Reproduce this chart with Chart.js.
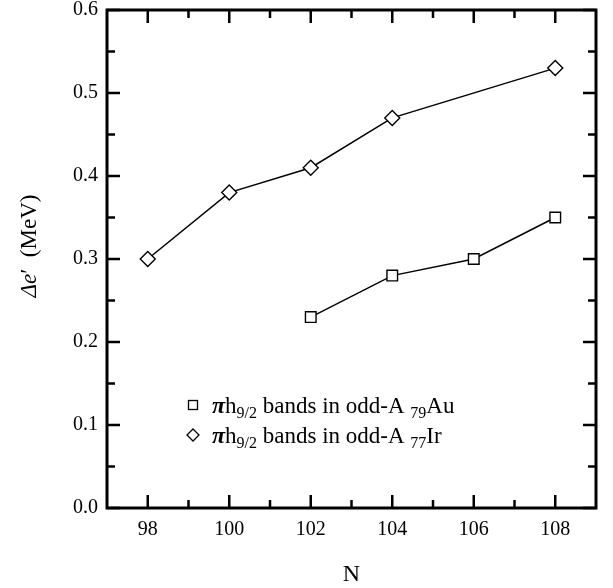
<!DOCTYPE html>
<html lang="en">
<head>
    <meta charset="UTF-8">
    <title>Delta e' vs N</title>
    <script src="https://cdn.jsdelivr.net/npm/chart.js"></script>
    <style>
        html, body { margin: 0; padding: 0; background: #fff; }
        #wrap { width: 613px; height: 588px; }
    </style>
</head>
<body>
    <div id="wrap"><canvas id="chart" width="613" height="588"></canvas></div>

    <script>
        // data
        const auN = [102, 104, 106, 108];
        const auValues = [0.23, 0.28, 0.30, 0.35];
        const irN = [98, 100, 102, 104, 108];
        const irValues = [0.30, 0.38, 0.41, 0.47, 0.53];

        const xTickLabels = [98, 100, 102, 104, 106, 108];
        const xMinorTicks = [99, 101, 103, 105, 107];
        const yTickLabels = [0.0, 0.1, 0.2, 0.3, 0.4, 0.5, 0.6];
        const yMinorTicks = [0.05, 0.15, 0.25, 0.35, 0.45, 0.55];

        const SERIF = "'Liberation Serif', 'Times New Roman', serif";

        // draw a row of text runs, each with its own font and vertical shift
        function drawRuns(ctx, x, y, runs) {
            runs.forEach(r => {
                ctx.font = r.font;
                ctx.fillText(r.text, x, y + (r.dy || 0));
                x += ctx.measureText(r.text).width;
            });
            return x;
        }

        const framePlugin = {
            id: 'frame',
            afterDraw(chart) {
                const { ctx, chartArea: a, scales } = chart;
                const xs = scales.x, ys = scales.y;
                ctx.save();
                ctx.strokeStyle = '#000';
                ctx.lineCap = 'butt';

                // ticks, pointing inward on all four sides
                ctx.lineWidth = 2.5;
                const major = 13, minor = 8;
                const xt = (v, len) => {
                    const px = xs.getPixelForValue(v);
                    ctx.beginPath();
                    ctx.moveTo(px, a.bottom); ctx.lineTo(px, a.bottom - len);
                    ctx.moveTo(px, a.top); ctx.lineTo(px, a.top + len);
                    ctx.stroke();
                };
                const yt = (v, len) => {
                    const py = ys.getPixelForValue(v);
                    ctx.beginPath();
                    ctx.moveTo(a.left, py); ctx.lineTo(a.left + len, py);
                    ctx.moveTo(a.right, py); ctx.lineTo(a.right - len, py);
                    ctx.stroke();
                };
                xTickLabels.forEach(v => xt(v, major));
                xMinorTicks.forEach(v => xt(v, minor));
                yTickLabels.forEach(v => yt(v, major));
                yMinorTicks.forEach(v => yt(v, minor));

                // frame
                ctx.lineWidth = 3;
                ctx.strokeRect(a.left, a.top, a.right - a.left, a.bottom - a.top);

                // axis titles
                ctx.fillStyle = '#000';
                ctx.textBaseline = 'alphabetic';
                ctx.font = '24px ' + SERIF;
                ctx.textAlign = 'center';
                ctx.fillText('N', (a.left + a.right) / 2, 581);

                ctx.textAlign = 'left';
                ctx.save();
                ctx.translate(36, 246);
                ctx.rotate(-Math.PI / 2);
                const yRuns = [
                    { text: '\u0394', font: 'italic 23px ' + SERIF },
                    { text: 'e', font: 'italic 23px ' + SERIF },
                    { text: '\u2032', font: '23px ' + SERIF },
                    { text: '  (MeV)', font: '23px ' + SERIF }
                ];
                let w = 0;
                yRuns.forEach(r => { ctx.font = r.font; w += ctx.measureText(r.text).width; });
                drawRuns(ctx, -w / 2, 0, yRuns);
                ctx.restore();

                // legend
                const legendRows = [
                    { style: 'rect', nucleus: 'Au', z: '79', y: 405 },
                    { style: 'rectRot', nucleus: 'Ir', z: '77', y: 435 }
                ];
                ctx.lineWidth = 1.3;
                legendRows.forEach(row => {
                    ctx.strokeStyle = '#000';
                    ctx.fillStyle = '#fff';
                    if (row.style === 'rect') {
                        ctx.fillRect(188.5, row.y - 4.5, 9, 9);
                        ctx.strokeRect(188.5, row.y - 4.5, 9, 9);
                    } else {
                        ctx.beginPath();
                        ctx.moveTo(193, row.y - 6); ctx.lineTo(199, row.y);
                        ctx.lineTo(193, row.y + 6); ctx.lineTo(187, row.y);
                        ctx.closePath(); ctx.fill(); ctx.stroke();
                    }
                    ctx.fillStyle = '#000';
                    drawRuns(ctx, 212, row.y + 8, [
                        { text: '\u03c0', font: 'bold italic 24px ' + SERIF },
                        { text: 'h', font: '23px ' + SERIF },
                        { text: '9/2', font: '16px ' + SERIF, dy: 5 },
                        { text: ' bands in odd-A ', font: '23px ' + SERIF },
                        { text: row.z, font: '16px ' + SERIF, dy: 5 },
                        { text: row.nucleus, font: '23px ' + SERIF }
                    ]);
                });
                ctx.restore();
            }
        };

        const toPoints = (xsArr, ysArr) => xsArr.map((n, i) => ({ x: n, y: ysArr[i] }));

        new Chart(document.getElementById('chart'), {
            type: 'line',
            data: {
                datasets: [{
                    label: 'Au',
                    data: toPoints(auN, auValues),
                    borderColor: '#000',
                    borderWidth: 1.5,
                    backgroundColor: '#fff',
                    pointStyle: 'rect',
                    pointRadius: 7.5,
                    pointBorderWidth: 1.4,
                    pointBorderColor: '#000',
                    pointBackgroundColor: '#fff',
                    tension: 0
                }, {
                    label: 'Ir',
                    data: toPoints(irN, irValues),
                    borderColor: '#000',
                    borderWidth: 1.5,
                    backgroundColor: '#fff',
                    pointStyle: 'rectRot',
                    pointRadius: 7.5,
                    pointBorderWidth: 1.4,
                    pointBorderColor: '#000',
                    pointBackgroundColor: '#fff',
                    tension: 0
                }]
            },
            options: {
                responsive: false,
                animation: false,
                layout: { padding: { left: 0, top: 10, right: 17, bottom: 0 } },
                plugins: {
                    legend: { display: false },
                    tooltip: { enabled: false }
                },
                scales: {
                    x: {
                        type: 'linear',
                        min: 97,
                        max: 109,
                        grid: { display: false, drawTicks: false },
                        border: { display: false },
                        afterFit: s => { s.height = 80; s.paddingLeft = 0; s.paddingRight = 0; },
                        afterBuildTicks: s => { s.ticks = xTickLabels.map(v => ({ value: v })); },
                        ticks: {
                            padding: 10,
                            color: '#000',
                            font: { family: SERIF, size: 20 },
                            callback: v => String(v)
                        }
                    },
                    y: {
                        min: 0,
                        max: 0.6,
                        grid: { display: false, drawTicks: false },
                        border: { display: false },
                        afterFit: s => { s.width = 107; s.paddingTop = 0; s.paddingBottom = 0; },
                        afterBuildTicks: s => { s.ticks = yTickLabels.map(v => ({ value: v })); },
                        ticks: {
                            padding: 9,
                            color: '#000',
                            font: { family: SERIF, size: 20 },
                            callback: v => Number(v).toFixed(1)
                        }
                    }
                }
            },
            plugins: [framePlugin]
        });
    </script>
</body>
</html>
